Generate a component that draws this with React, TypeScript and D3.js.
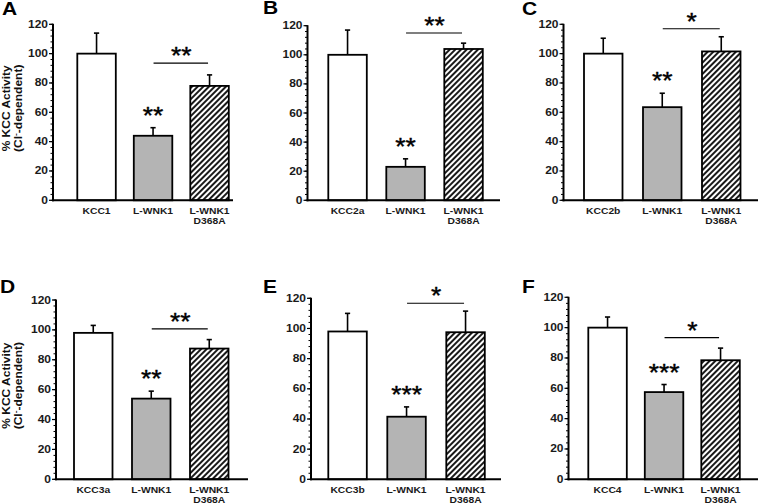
import React from "react";
import * as d3 from "d3";

// ---------- data ----------
const panelLetters = ["A", "B", "C", "D", "E", "F"];
const controlLabels = ["KCC1", "KCC2a", "KCC2b", "KCC3a", "KCC3b", "KCC4"];
const groupLabels = ["L-WNK1", "L-WNK1\nD368A"];
const means: number[][] = [
  [100, 44, 78],
  [100, 23, 104],
  [100, 63.5, 101.5],
  [98, 54, 87.5],
  [98, 41.5, 97.5],
  [100, 57.5, 78.5],
];
const errors: number[][] = [
  [14, 5.5, 7.5],
  [17, 5.5, 4],
  [10.5, 9.5, 10],
  [5, 5, 6],
  [12, 6.5, 14],
  [7, 5, 8],
];
const barStars = ["**", "**", "**", "**", "***", "***"];
const pairStars = ["**", "**", "*", "**", "*", "*"];
const bracketLevels = [93.5, 115, 117, 100.7, 116.7, 93.4];
const yTicks = [0, 20, 40, 60, 80, 100, 120];
const yMinorStep = 4;
const yLabel1 = "% KCC Activity";

// ---------- layout (pixel positions per panel) ----------
const layout = [
  { x0: 53, right: 233, yTop: 24.3, yBot: 200.3, barLeft: 77.3, step: 56.5, lx: 2, ly: 15, ylab: true },
  { x0: 307.5, right: 500, yTop: 25.7, yBot: 200.3, barLeft: 328.3, step: 58, lx: 263, ly: 14, ylab: false },
  { x0: 563.5, right: 758, yTop: 24.3, yBot: 200.3, barLeft: 584, step: 59, lx: 522, ly: 15, ylab: false },
  { x0: 56, right: 248, yTop: 300, yBot: 479.3, barLeft: 74, step: 58, lx: 0, ly: 293, ylab: true },
  { x0: 311, right: 501, yTop: 298.3, yBot: 479.3, barLeft: 328.3, step: 59, lx: 263, ly: 293, ylab: false },
  { x0: 568.5, right: 758, yTop: 297.3, yBot: 479.3, barLeft: 588.3, step: 56.5, lx: 522, ly: 293, ylab: false },
];

const FONT = "'Liberation Sans', Arial, Helvetica, sans-serif";
const BAR_W = 38.5;
const fills = ["#ffffff", "#b4b4b4", "url(#hatch)"];

function tf(x: number, y: number, rot = 0, sx = 1) {
  return `translate(${x},${y}) rotate(${rot}) scale(${sx},1)`;
}

function Panel({ i }: { i: number }) {
  const L = layout[i];
  const cats = [controlLabels[i], ...groupLabels];
  const keys = ["c0", "c1", "c2"];
  const p = 1 - BAR_W / L.step;
  const start = L.barLeft - (p / 2) * L.step;
  const x = d3
    .scaleBand<string>()
    .domain(keys)
    .range([start, start + 3 * L.step])
    .paddingInner(p)
    .paddingOuter(p / 2);
  const y = d3.scaleLinear().domain([0, 120]).range([L.yBot, L.yTop]);
  const bw = x.bandwidth();
  const minor = d3.range(0, 120.001, yMinorStep);
  const cx = (k: string) => (x(k) as number) + bw / 2;

  const m = means[i];
  const e = errors[i];
  const c1 = cx("c1");
  const c2 = cx("c2");
  const by = y(bracketLevels[i]);
  const yMid = (L.yTop + L.yBot) / 2 - 4;

  return (
    <g>
      {/* panel letter */}
      <text
        transform={tf(L.lx, L.ly, 0, 1.2)}
        fontFamily={FONT}
        fontWeight="bold"
        fontSize={17.5}
        fill="#000"
      >
        {panelLetters[i]}
      </text>

      {/* y label */}
      {L.ylab && (
        <g>
          <text
            transform={tf(9.5, yMid, -90, 1.2)}
            textAnchor="middle"
            fontFamily={FONT}
            fontWeight="bold"
            fontSize={10}
            fill="#111"
          >
            {yLabel1}
          </text>
          <text
            transform={tf(21.5, yMid, -90, 1.2)}
            textAnchor="middle"
            fontFamily={FONT}
            fontWeight="bold"
            fontSize={10}
            fill="#111"
          >
            (Cl
            <tspan dy={-3.5} fontSize={7}>-</tspan>
            <tspan dy={3.5}>-dependent)</tspan>
          </text>
        </g>
      )}

      {/* bars */}
      {keys.map((k, j) => {
        const top = y(m[j]);
        const et = y(m[j] + e[j]);
        return (
          <g key={k}>
            <line x1={cx(k)} x2={cx(k)} y1={top} y2={et} stroke="#000" strokeWidth={1.6} />
            <line x1={cx(k) - 2.6} x2={cx(k) + 2.6} y1={et} y2={et} stroke="#000" strokeWidth={1.6} />
            <rect
              x={x(k)}
              y={top}
              width={bw}
              height={L.yBot - top}
              fill={fills[j]}
              stroke="#000"
              strokeWidth={1.8}
            />
          </g>
        );
      })}

      {/* axes */}
      <line x1={L.x0} x2={L.x0} y1={L.yTop - 0.5} y2={L.yBot + 1} stroke="#000" strokeWidth={2} />
      <line x1={L.x0 - 1} x2={L.right} y1={L.yBot} y2={L.yBot} stroke="#000" strokeWidth={2} />
      {minor.map((t) => (
        <line key={"m" + t} x1={L.x0 - 2.5} x2={L.x0} y1={y(t)} y2={y(t)} stroke="#000" strokeWidth={1} />
      ))}
      {yTicks.map((t) => (
        <g key={"t" + t}>
          <line x1={L.x0 - 4} x2={L.x0} y1={y(t)} y2={y(t)} stroke="#000" strokeWidth={1.2} />
          <text
            transform={tf(L.x0 - 5, y(t) + 3.5, 0, 1.2)}
            textAnchor="end"
            fontFamily={FONT}
            fontWeight="bold"
            fontSize={10}
            fill="#1a1a1a"
          >
            {t}
          </text>
        </g>
      ))}

      {/* category labels */}
      {keys.map((k, j) =>
        cats[j].split("\n").map((line, li) => (
          <text
            key={k + li}
            transform={tf(cx(k), L.yBot + 14 + li * 10, 0, 1.12)}
            textAnchor="middle"
            fontFamily={FONT}
            fontWeight="bold"
            fontSize={9.2}
            fill="#1a1a1a"
          >
            {line}
          </text>
        ))
      )}

      {/* significance */}
      <text
        transform={tf(c1, y(m[1] + e[1]) - 17.5 + 13.5, 0, 1.1)}
        textAnchor="middle"
        fontFamily={FONT}
        fontSize={24}
        fill="#000"
        stroke="#000"
        strokeWidth={0.4}
      >
        {barStars[i]}
      </text>
      <line x1={c1 + 0.5} x2={c2 - 1.5} y1={by} y2={by} stroke="#000" strokeWidth={1.1} />
      <text
        transform={tf((c1 + c2) / 2, by - 12.5 + 13.5, 0, 1.1)}
        textAnchor="middle"
        fontFamily={FONT}
        fontSize={24}
        fill="#000"
        stroke="#000"
        strokeWidth={0.4}
      >
        {pairStars[i]}
      </text>
    </g>
  );
}

export default function App() {
  return (
    <svg
      width={760}
      height={504}
      viewBox="0 0 760 504"
      style={{ position: "absolute", left: 0, top: 0, background: "#fff" }}
    >
      <defs>
        <pattern
          id="hatch"
          patternUnits="userSpaceOnUse"
          width={4}
          height={4}
          patternTransform="rotate(45)"
        >
          <rect width={4} height={4} fill="#fff" />
          <line x1={1} x2={1} y1={0} y2={4} stroke="#000" strokeWidth={1.8} />
        </pattern>
      </defs>
      <rect width={760} height={504} fill="#fff" />
      {panelLetters.map((_, i) => (
        <Panel key={i} i={i} />
      ))}
    </svg>
  );
}
